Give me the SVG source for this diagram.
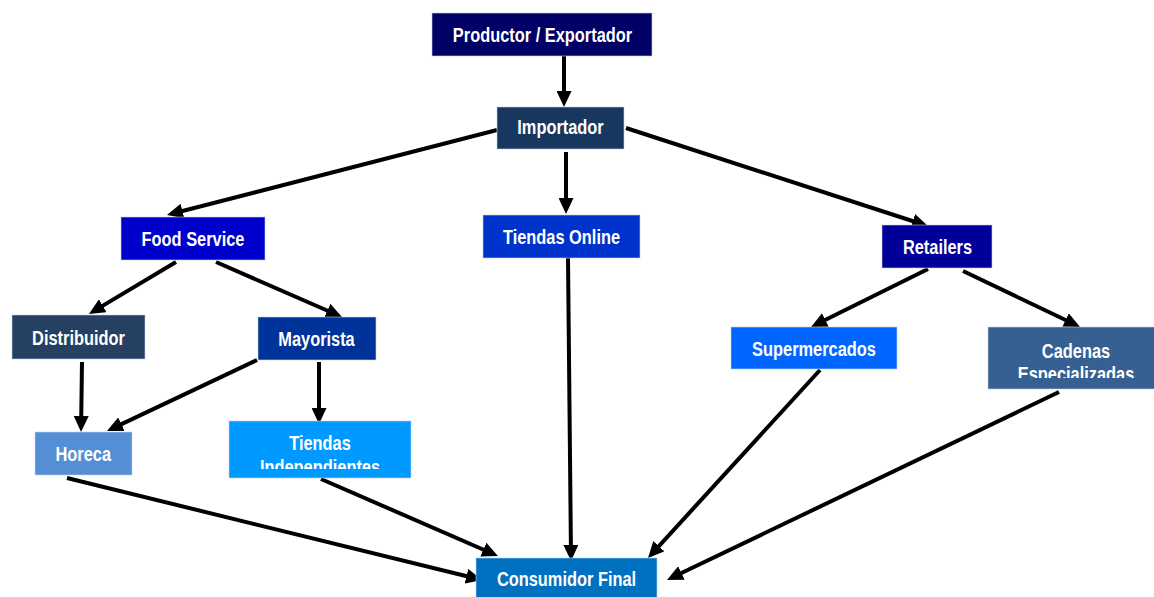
<svg xmlns="http://www.w3.org/2000/svg" width="1154" height="597" viewBox="0 0 1154 597">
<style>
.box{stroke:#c8d4f0;stroke-width:1;stroke-opacity:0.6}
.lbl{font-family:"Liberation Sans Narrow","Liberation Sans",sans-serif;font-weight:bold;font-size:20px;fill:#ffffff;text-anchor:middle}
.con line{stroke:#000000;stroke-width:4;marker-end:url(#ah)}
</style>
<defs>
<marker id="ah" viewBox="0 0 16 15" markerWidth="16" markerHeight="15" markerUnits="userSpaceOnUse" refX="11" refY="7.5" orient="auto">
<path d="M0,0 L16,7.5 L0,15 z" fill="#000000"/>
</marker>
<clipPath id="clipTI"><rect x="228" y="421" width="184" height="48"/></clipPath>
<clipPath id="clipCE"><rect x="988" y="326" width="176" height="52"/></clipPath>
</defs>
<rect width="1154" height="597" fill="#ffffff"/>
<g id="connectors" class="con">
<line x1="564" y1="56" x2="564" y2="102"/>
<line x1="497" y1="130" x2="171.8" y2="213.8"/>
<line x1="566" y1="152" x2="566" y2="209"/>
<line x1="626" y1="128" x2="923.2" y2="224.5"/>
<line x1="176" y1="262" x2="93.3" y2="311.4"/>
<line x1="216" y1="262" x2="337.4" y2="315"/>
<line x1="82" y1="362" x2="81.1" y2="427"/>
<line x1="257" y1="360" x2="111.5" y2="428.9"/>
<line x1="319" y1="362" x2="319" y2="419"/>
<line x1="928" y1="269" x2="815.5" y2="324.8"/>
<line x1="963" y1="271" x2="1075.5" y2="324.8"/>
<line x1="568" y1="258" x2="571" y2="556"/>
<line x1="67" y1="478" x2="477.1" y2="578.8"/>
<line x1="321" y1="479" x2="493.4" y2="554"/>
<line x1="820" y1="370" x2="651.4" y2="554.3"/>
<line x1="1059" y1="392" x2="671.5" y2="577.8"/>
</g>
<g id="productor">
<rect class="box" x="432" y="13" width="220" height="43" fill="#000066"/>
<text class="lbl" transform="translate(542.5,42) scale(0.82,1)">Productor / Exportador</text>
</g>
<g id="importador">
<rect class="box" x="497" y="107" width="127" height="42" fill="#17375E"/>
<text class="lbl" transform="translate(560.5,134) scale(0.82,1)">Importador</text>
</g>
<g id="food-service">
<rect class="box" x="121" y="217" width="144" height="43" fill="#0000CC"/>
<text class="lbl" transform="translate(193,246) scale(0.82,1)">Food Service</text>
</g>
<g id="tiendas-online">
<rect class="box" x="483" y="215" width="157" height="43" fill="#0033CC"/>
<text class="lbl" transform="translate(561.5,244) scale(0.82,1)">Tiendas Online</text>
</g>
<g id="retailers">
<rect class="box" x="882" y="225" width="110" height="43" fill="#000099"/>
<text class="lbl" transform="translate(937.5,254) scale(0.82,1)">Retailers</text>
</g>
<g id="distribuidor">
<rect class="box" x="12" y="315" width="133" height="44" fill="#254061"/>
<text class="lbl" transform="translate(78.5,345) scale(0.82,1)">Distribuidor</text>
</g>
<g id="mayorista">
<rect class="box" x="258" y="317" width="118" height="43" fill="#003399"/>
<text class="lbl" transform="translate(316.5,346) scale(0.82,1)">Mayorista</text>
</g>
<g id="horeca">
<rect class="box" x="35" y="432" width="97" height="43" fill="#558ED5"/>
<text class="lbl" transform="translate(83.3,461) scale(0.82,1)">Horeca</text>
</g>
<g id="tiendas-independientes">
<rect class="box" x="229" y="421" width="182" height="57" fill="#0099FF"/>
<g clip-path="url(#clipTI)">
<text class="lbl" transform="translate(320,450) scale(0.82,1)">Tiendas</text>
<text class="lbl" transform="translate(320,474) scale(0.82,1)">Independientes</text>
</g>
</g>
<g id="supermercados">
<rect class="box" x="731" y="327" width="166" height="42" fill="#0066FF"/>
<text class="lbl" transform="translate(814,356) scale(0.82,1)">Supermercados</text>
</g>
<g id="cadenas-especializadas">
<rect class="box" x="988" y="327" width="176" height="62" fill="#376092"/>
<g clip-path="url(#clipCE)">
<text class="lbl" transform="translate(1076,357.5) scale(0.82,1)">Cadenas</text>
<text class="lbl" transform="translate(1076,381) scale(0.82,1)">Especializadas</text>
</g>
</g>
<g id="consumidor-final">
<rect class="box" x="476" y="558" width="181" height="43" fill="#0070C0"/>
<text class="lbl" transform="translate(566.5,586) scale(0.82,1)">Consumidor Final</text>
</g>
</svg>
